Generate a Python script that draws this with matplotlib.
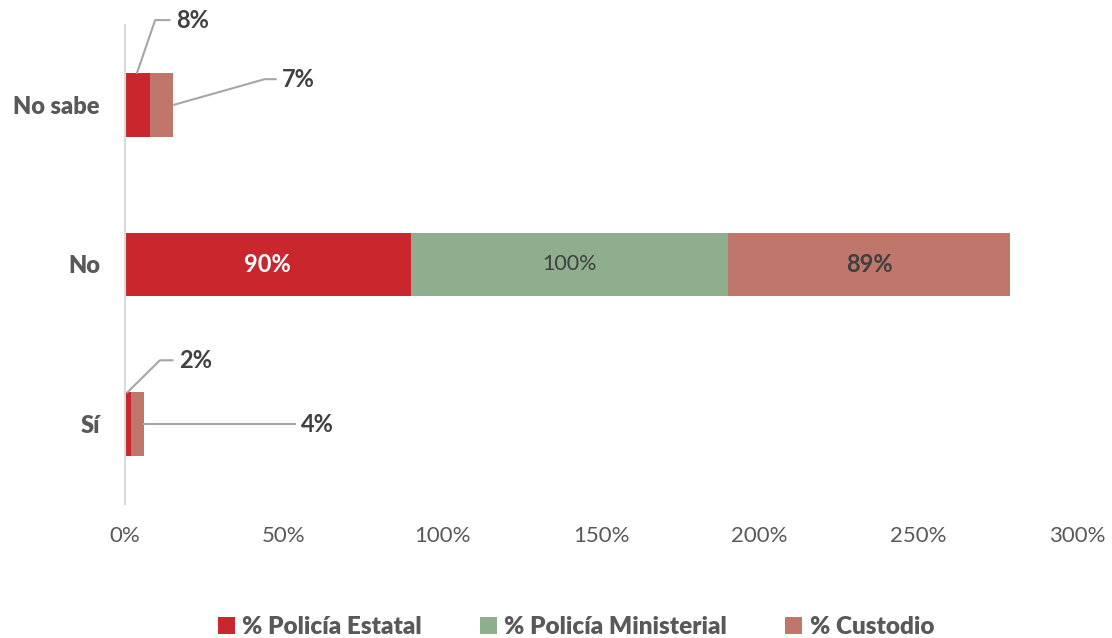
import matplotlib.pyplot as plt
import numpy as np

plt.rcParams['font.family'] = ['Lato', 'DejaVu Sans']

categorias = ['Sí', 'No', 'No sabe']
estatal = [2, 90, 8]
ministerial = [0, 100, 0]
custodio = [4, 89, 7]
series = ['% Policía Estatal', '% Policía Ministerial', '% Custodio']
colores = ['#C9262D', '#8EAE8E', '#BF776C']
ticks = [0, 50, 100, 150, 200, 250, 300]

fig = plt.figure(figsize=(11.12, 6.38), dpi=100)
ax = fig.add_axes([0.1124, 0.21, 0.8561, 0.751])

y = np.arange(len(categorias))
izq = np.zeros(len(categorias))
for vals, nombre, col in zip([estatal, ministerial, custodio], series, colores):
    ax.barh(y, vals, left=izq, height=0.4, color=col, label=nombre)
    izq = izq + np.array(vals)

# etiquetas dentro de la barra "No"
i = 1
ax.text(estatal[i] / 2, i, f'{estatal[i]}%', ha='center', va='center',
        color='white', fontsize=17, fontweight='bold')
ax.text(estatal[i] + ministerial[i] / 2, i, f'{ministerial[i]}%', ha='center',
        va='center', color='#404040', fontsize=15.5)
ax.text(estatal[i] + ministerial[i] + custodio[i] / 2, i, f'{custodio[i]}%',
        ha='center', va='center', color='#404040', fontsize=17, fontweight='bold')

# etiquetas con linea guia para barras pequeñas
def guia(x0, y0, xc, yc, x1, texto):
    ax.plot([x0, xc, x1], [y0, yc, yc], color='#A6A6A6', lw=1.5,
            clip_on=False, zorder=3)
    ax.text(x1 + 2, yc, texto, ha='left', va='center', color='#404040',
            fontsize=17, fontweight='bold')

guia(3.8, 2.2, 9.5, 2.53, 14.0, f'{estatal[2]}%')
guia(15.5, 2.0, 44.0, 2.16, 47.5, f'{custodio[2]}%')
guia(0.8, 0.2, 11.0, 0.4, 15.0, f'{estatal[0]}%')
guia(5.8, 0.0, 53.5, 0.0, 53.5, f'{custodio[0]}%')

ax.set_xlim(0, 300)
ax.set_ylim(-0.5, 2.5)
ax.set_xticks(ticks)
ax.set_xticklabels([f'{t}%' for t in ticks], fontsize=16)
ax.set_yticks(y)
ax.set_yticklabels(categorias, fontweight='heavy', fontsize=17)
ax.tick_params(axis='both', length=0, labelcolor='#595959')
ax.tick_params(axis='x', pad=16)
ax.tick_params(axis='y', pad=18)
for s in ['top', 'right', 'bottom']:
    ax.spines[s].set_visible(False)
ax.spines['left'].set_color('#D9D9D9')
ax.spines['left'].set_linewidth(1.5)

leg = fig.legend(loc='center', bbox_to_anchor=(0.518, 0.017), ncol=3,
                 frameon=False, fontsize=17.5, handlelength=0.7,
                 handleheight=0.7, handletextpad=0.3, columnspacing=2.4)
for t in leg.get_texts():
    t.set_color('#595959')
    t.set_fontweight('heavy')

fig.savefig('out.png', dpi=100)
